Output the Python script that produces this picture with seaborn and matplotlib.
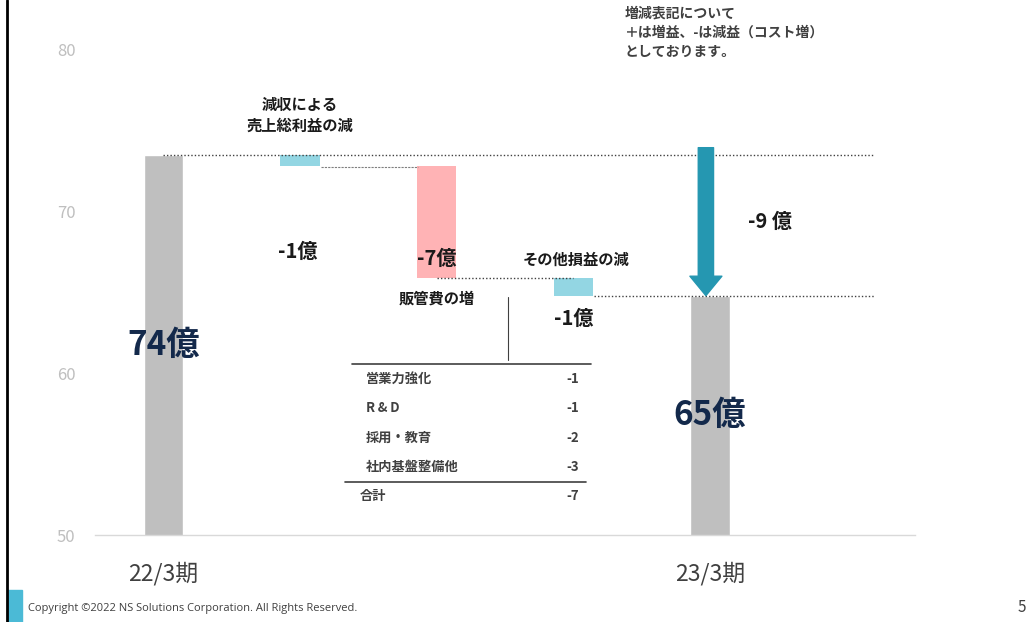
import numpy as np
import pandas as pd
import matplotlib.pyplot as plt
import seaborn as sns
from matplotlib.lines import Line2D
from matplotlib.patches import Rectangle

# data
categories = ["22/3期", "売上総利益", "販管費", "その他損益", "23/3期"]
start_value = 73.5
deltas = [-0.7, -6.9, -1.1]
delta_labels = ["-1億", "-7億", "-1億"]
total_labels = ["74億", "65億"]
step_names = ["減収による\n売上総利益の減", "販管費の増", "その他損益の減"]
table_items = ["営業力強化", "R\u2009&\u2009D", "採用・教育", "社内基盤整備他"]
table_values = ["-1", "-1", "-2", "-3"]
table_total = ("合計", "-7")
total_change_label = "-9 億"
note = "増減表記について\n＋は増益、-は減益（コスト増）\nとしております。"

sns.set_theme(style="white")
plt.rcParams['font.family'] = ['Noto Sans CJK JP', 'DejaVu Sans']

end_value = start_value + sum(deltas)
levels = np.concatenate([[start_value], start_value + np.cumsum(deltas)])

fig = plt.figure(figsize=(10.32, 6.22), dpi=100)
ax = fig.add_axes([95 / 1032, 87 / 622, 820 / 1032, 517.5 / 622])

# totals with seaborn
df = pd.DataFrame({"cat": [categories[0], categories[-1]],
                   "val": [start_value, end_value]})
sns.barplot(data=df, x="cat", y="val", order=categories, color="#bfbfbf",
            saturation=1, width=0.29, ax=ax)

# floating delta bars
delta_colors = ["#93d6e3", "#ffb3b5", "#93d6e3"]
for i, d in enumerate(deltas):
    ax.bar(i + 1, d, bottom=levels[i], width=0.29, color=delta_colors[i],
           edgecolor="none", zorder=2)

ax.set_xlim(-0.5, 5.5)
ax.set_ylim(50, 82)
ax.set_yticks([50, 60, 70, 80])
ax.set_xticks([0, 4])
ax.set_xticklabels([categories[0], categories[-1]])
ax.set_xlabel("")
ax.set_ylabel("")
ax.tick_params(axis="y", length=0, labelsize=12, labelcolor="#bfbfbf", pad=14)
ax.tick_params(axis="x", length=0, labelsize=16.5, labelcolor="#404040", pad=19)
for s in ["top", "right", "left"]:
    ax.spines[s].set_visible(False)
ax.spines["bottom"].set_color("#d9d9d9")
ax.spines["bottom"].set_linewidth(1)

# connector / reference lines
dot = dict(color="#404040", linestyle=(0, (1, 1.5)), linewidth=1, zorder=3)
ax.plot([0, 5.2], [start_value, start_value], **dot)
ax.plot([1.15, 1.86], [levels[1] - 0.05, levels[1] - 0.05], color="#7f7f7f",
        linestyle=(0, (2, 1)), linewidth=0.8, zorder=3)
ax.plot([2.0, 3.0], [levels[2], levels[2]], **dot)
ax.plot([3.15, 5.2], [end_value, end_value], **dot)

# total change arrow
ax.annotate("", xy=(3.97, end_value), xytext=(3.97, start_value + 0.45),
            arrowprops=dict(arrowstyle="simple,head_length=14,head_width=23,tail_width=11",
                            mutation_scale=1, color="#2597b1", shrinkA=0, shrinkB=0),
            zorder=4)
ax.text(4.44, 69.36, total_change_label, ha="center", va="center",
        fontsize=14.5, fontweight="bold", color="#1a1a1a")

# value labels
ax.text(0, 61.75, total_labels[0], ha="center", va="center", fontsize=24,
        fontweight="bold", color="#13294b", zorder=5)
ax.text(4, 57.4, total_labels[1], ha="center", va="center", fontsize=24,
        fontweight="bold", color="#13294b", zorder=5)
delta_label_pos = [(0.985, 67.56), (2.0, 67.13), (3.0, 63.4)]
for (x, y), lab in zip(delta_label_pos, delta_labels):
    ax.text(x, y, lab, ha="center", va="center", fontsize=14.5,
            fontweight="bold", color="#1a1a1a", zorder=5)
name_pos = [(1.0, 75.97), (2.0, 64.6), (3.02, 67.0)]
for (x, y), lab in zip(name_pos, step_names):
    ax.text(x, y, lab, ha="center", va="center", fontsize=11,
            fontweight="bold", color="#1a1a1a", linespacing=1.35)

# breakdown table
ax.plot([2.52, 2.52], [60.8, 64.7], color="#404040", linewidth=0.8)
ax.plot([1.38, 3.13], [60.55, 60.55], color="#404040", linewidth=1.2)
row_y = [59.65, 57.85, 56.0, 54.2]
for y, lab, val in zip(row_y, table_items, table_values):
    ax.text(1.48, y, lab, ha="left", va="center", fontsize=9.5,
            fontweight="bold", color="#404040")
    ax.text(3.04, y, val, ha="right", va="center", fontsize=9.5,
            fontweight="bold", color="#404040")
ax.plot([1.33, 3.09], [53.3, 53.3], color="#404040", linewidth=1.2)
ax.text(1.44, 52.4, table_total[0], ha="left", va="center", fontsize=9.5,
        fontweight="bold", color="#404040")
ax.text(3.04, 52.4, table_total[1], ha="right", va="center", fontsize=9.5,
        fontweight="bold", color="#404040")

# slide furniture
fig.text(625 / 1032, 1 - 7 / 622, note, ha="left", va="top", fontsize=10,
         fontweight="bold", color="#404040", linespacing=1.45)
fig.add_artist(Line2D([7 / 1032, 7 / 1032], [0, 1], color="black", linewidth=2))
fig.add_artist(Rectangle((8 / 1032, 0), 14 / 1032, 32 / 622, color="#4bbad6",
                         transform=fig.transFigure))
fig.text(28 / 1032, 1 - 608 / 622, "Copyright ©2022 NS Solutions Corporation. All Rights Reserved.",
         ha="left", va="center", fontsize=8, color="#404040", family=["Open Sans", "DejaVu Sans"])
fig.text(1022 / 1032, 1 - 608 / 622, "5", ha="center", va="center", fontsize=11,
         color="#404040")

fig.savefig("out.png", dpi=100)
